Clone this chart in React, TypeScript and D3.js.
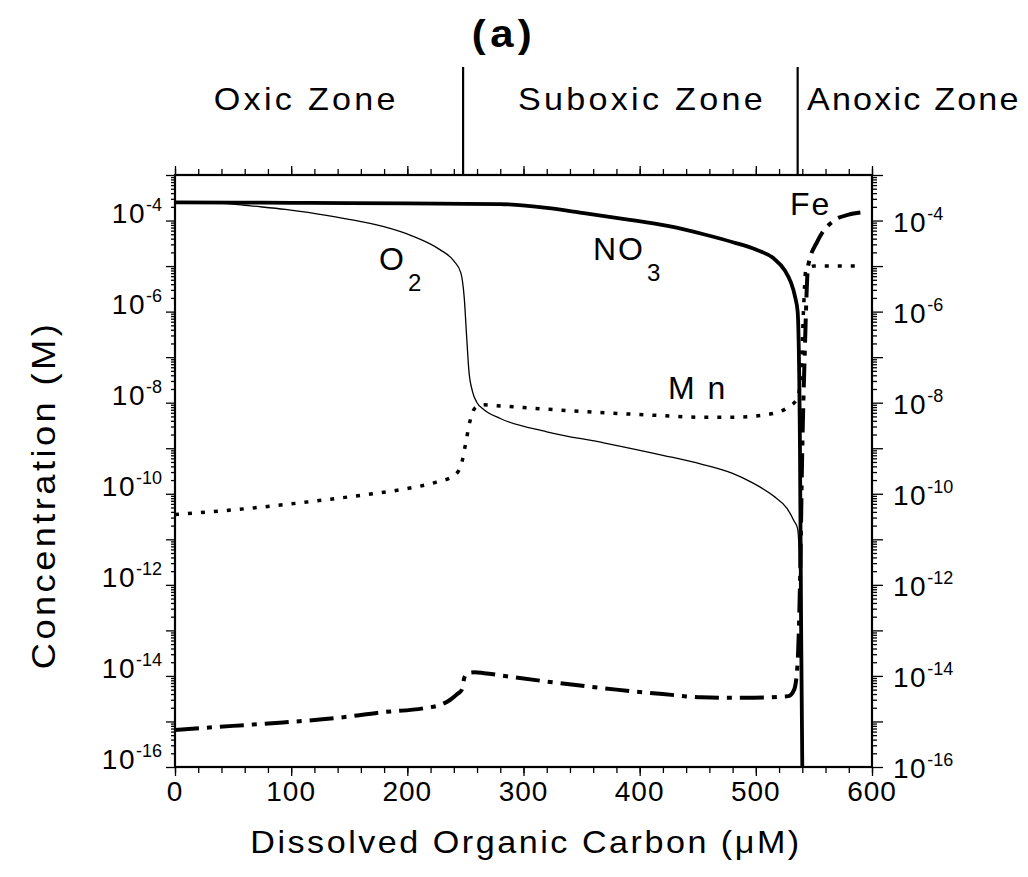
import { useEffect, useRef } from 'react'
import * as d3 from 'd3'

// x: dissolved organic carbon (uM), y: concentration (M)
const no3X = [0, 50, 100, 150, 200, 250, 280, 320, 352, 390, 424, 455, 481, 500, 515, 525, 530, 534, 536, 538, 539, 540]
const no3Y = [2.5e-4, 2.48e-4, 2.45e-4, 2.42e-4, 2.38e-4, 2.33e-4, 2.3e-4, 1.9e-4, 1.45e-4, 1.05e-4, 7.6e-5, 5e-5, 3.3e-5, 2.3e-5, 1.5e-5, 8e-6, 4.5e-6, 2e-6, 1e-6, 1e-9, 1e-13, 1e-16]

const o2X = [0, 20, 35, 50, 65, 95, 122, 151, 179, 205, 228, 240, 246, 249, 251, 253, 256, 260, 266, 280, 320, 370, 420, 453, 480, 496, 515, 527, 533, 536, 538, 539, 540]
const o2Y = [2.5e-4, 2.5e-4, 2.45e-4, 2.3e-4, 2.1e-4, 1.75e-4, 1.4e-4, 1.05e-4, 7.4e-5, 4.5e-5, 2.3e-5, 1.3e-5, 7.2e-6, 2e-6, 3e-7, 5e-8, 1.8e-8, 1e-8, 7e-9, 4.5e-9, 2.3e-9, 1.3e-9, 7e-10, 4.5e-10, 2.8e-10, 1.8e-10, 9e-11, 4.7e-11, 2.5e-11, 1.7e-11, 1e-12, 1e-14, 1e-16]

const mnX = [0, 53, 100, 132, 170, 200, 225, 240, 246, 250, 254, 258, 264, 280, 320, 370, 420, 450, 480, 510, 528, 536, 539, 541, 543, 550, 570, 590]
const mnY = [3.5e-11, 4.5e-11, 6e-11, 7.5e-11, 1e-10, 1.3e-10, 1.8e-10, 2.5e-10, 4e-10, 1.2e-9, 4e-9, 7.5e-9, 9e-9, 8.5e-9, 7.2e-9, 6e-9, 5.2e-9, 4.8e-9, 4.8e-9, 5.5e-9, 8e-9, 1.3e-8, 5e-8, 1e-6, 8e-6, 1e-5, 1e-5, 1e-5]

const feX = [0, 50, 93, 140, 179, 214, 230, 237, 243, 247, 249, 252, 258, 266, 290, 330, 380, 420, 453, 490, 528, 533, 536, 538, 540, 542, 545, 553, 566, 580, 590]
const feY = [6.5e-16, 8e-16, 9.5e-16, 1.2e-15, 1.6e-15, 1.95e-15, 2.4e-15, 3e-15, 4e-15, 5e-15, 9e-15, 1.15e-14, 1.2e-14, 1.15e-14, 9.5e-15, 7e-15, 5e-15, 4e-15, 3.4e-15, 3.3e-15, 3.6e-15, 5e-15, 2e-14, 1e-12, 1e-9, 1e-7, 1e-5, 3.5e-5, 9.5e-5, 1.35e-4, 1.5e-4]

const xMajor = [0, 100, 200, 300, 400, 500, 600]
const yLabelExp = [-4, -6, -8, -10, -12, -14, -16]
const zoneNames = ['Oxic Zone', 'Suboxic Zone', 'Anoxic Zone']
const zoneBounds = [248, 536]
const zoneCenters = [113, 402, 636]

const FONT = 'Liberation Sans, Arial, Helvetica, sans-serif'
const SX = 1.1 // the scanned lettering is a little wider than Arial

export default function App() {
  const svgRef = useRef<SVGSVGElement>(null)

  useEffect(() => {
    if (!svgRef.current) return
    const svg = d3.select(svgRef.current)
    svg.selectAll('*').remove()

    const margin = { top: 175, left: 175 }
    const innerWidth = 697
    const innerHeight = 592

    const x = d3.scaleLinear().domain([0, 600]).range([0, innerWidth])
    const y = d3.scaleLog().domain([1e-16, 1e-3]).range([innerHeight, 0])

    const g = svg.append('g').attr('transform', `translate(${margin.left},${margin.top})`)

    // ticks
    const minorX = d3.range(0, 601, 20)
    const decades = d3.range(-16, -2).map(e => Math.pow(10, e))
    const minorY: number[] = []
    d3.range(-16, -3).forEach(e => {
      for (let k = 2; k < 10; k++) minorY.push(k * Math.pow(10, e))
    })

    const styleAxis = (sel: any) => {
      sel.select('.domain').remove()
      sel.selectAll('line').attr('stroke', '#000').attr('stroke-width', 1.3)
    }

    g.append('g').attr('transform', `translate(0,${innerHeight})`)
      .call(d3.axisBottom(x).tickValues(minorX).tickSize(6).tickFormat(() => ''))
      .call(styleAxis)
    g.append('g').attr('transform', `translate(0,${innerHeight})`)
      .call(d3.axisBottom(x).tickValues(xMajor).tickSize(9).tickFormat(() => ''))
      .call(styleAxis)
    g.append('g')
      .call(d3.axisTop(x).tickValues(minorX).tickSize(6).tickFormat(() => ''))
      .call(styleAxis)
    g.append('g')
      .call(d3.axisTop(x).tickValues(xMajor).tickSize(9).tickFormat(() => ''))
      .call(styleAxis)

    g.append('g')
      .call(d3.axisLeft(y).tickValues(minorY).tickSize(4).tickFormat(() => ''))
      .call(styleAxis)
    g.append('g')
      .call(d3.axisLeft(y).tickValues(decades).tickSize(9).tickFormat(() => ''))
      .call(styleAxis)
    g.append('g').attr('transform', `translate(${innerWidth},0)`)
      .call(d3.axisRight(y).tickValues(minorY).tickSize(5).tickFormat(() => ''))
      .call(styleAxis)
    g.append('g').attr('transform', `translate(${innerWidth},0)`)
      .call(d3.axisRight(y).tickValues(decades).tickSize(11).tickFormat(() => ''))
      .call(styleAxis)

    // frame
    g.append('rect')
      .attr('width', innerWidth).attr('height', innerHeight)
      .attr('fill', 'none').attr('stroke', '#000').attr('stroke-width', 2.2)

    // x tick labels
    g.append('g').selectAll('text').data(xMajor).join('text')
      .attr('x', d => x(d)).attr('y', innerHeight + 34)
      .attr('text-anchor', 'middle')
      .attr('font-family', FONT).attr('font-size', 28).attr('letter-spacing', 1)
      .text(d => d)

    // y tick labels, both sides
    const yLab = (sel: any, side: 'left' | 'right') => {
      const t = sel.selectAll('text').data(yLabelExp).join('text')
        .attr('x', side === 'left' ? -13 : innerWidth + 21)
        .attr('y', (d: number) => y(Math.pow(10, d)) + (side === 'left' ? 2 : 11))
        .attr('text-anchor', side === 'left' ? 'end' : 'start')
        .attr('font-family', FONT).attr('font-size', 28)
      t.append('tspan').attr('letter-spacing', 1.5).text('10')
      t.append('tspan').attr('font-size', 18).attr('dy', -12).text((d: number) => String(d))
    }
    g.append('g').call(yLab, 'left')
    g.append('g').call(yLab, 'right')

    // series
    const line = d3.line<[number, number]>()
      .x(d => x(d[0])).y(d => y(d[1]))
      .curve(d3.curveMonotoneX)
    const pairs = (xs: number[], ys: number[]) => xs.map((v, i) => [v, ys[i]] as [number, number])

    g.append('path').datum(pairs(o2X, o2Y))
      .attr('d', line).attr('fill', 'none').attr('stroke', '#000').attr('stroke-width', 1.3)
    g.append('path').datum(pairs(mnX, mnY))
      .attr('d', line).attr('fill', 'none').attr('stroke', '#000').attr('stroke-width', 3.5)
      .attr('stroke-dasharray', '4 9')
    g.append('path').datum(pairs(feX, feY))
      .attr('d', line).attr('fill', 'none').attr('stroke', '#000').attr('stroke-width', 4)
      .attr('stroke-dasharray', '24 8 5 8')
    g.append('path').datum(pairs(no3X, no3Y))
      .attr('d', line).attr('fill', 'none').attr('stroke', '#000').attr('stroke-width', 3.8)

    // series labels
    const lab = (tx: number, ty: number, main: string, sub?: string) => {
      const t = g.append('text').attr('x', tx).attr('y', ty)
        .attr('font-family', FONT).attr('font-size', 32).attr('letter-spacing', 2)
      t.append('tspan').text(main)
      if (sub) t.append('tspan').attr('font-size', 24).attr('dy', 21).attr('dx', 2).text(sub)
    }
    lab(204, 95, 'O', '2')
    lab(418, 85, 'NO', '3')
    lab(493, 224, 'M n')
    lab(615, 40, 'Fe')

    // wide text helper: horizontally stretched, centred at (cx, cy)
    const wide = (cx: number, cy: number, str: string, size: number, ls: number, rot = 0, bold = false) =>
      svg.append('text')
        .attr('transform', `translate(${cx},${cy}) rotate(${rot}) scale(${SX},1)`)
        .attr('text-anchor', 'middle')
        .attr('font-family', FONT).attr('font-size', size)
        .attr('font-weight', bold ? 'bold' : 'normal')
        .attr('letter-spacing', ls)
        .text(str)

    // zone dividers and names
    zoneBounds.forEach(b => {
      svg.append('line')
        .attr('x1', margin.left + x(b)).attr('x2', margin.left + x(b))
        .attr('y1', 67).attr('y2', margin.top)
        .attr('stroke', '#000').attr('stroke-width', 2.2)
    })
    zoneNames.forEach((name, i) => {
      wide(margin.left + x(zoneCenters[i]), 110, name, 31, i === 2 ? 2 : 3)
    })

    // titles
    wide(504, 47, '(a)', 38, 4, 0, true)
    wide(526, 853, 'Dissolved Organic Carbon (\u03BCM)', 31, 2.3)
    wide(55, 495, 'Concentration (M)', 33, 3.1, -90)
  }, [])

  return (
    <svg
      ref={svgRef}
      width={1028}
      height={877}
      style={{ position: 'absolute', left: 0, top: 0, background: '#fff' }}
    />
  )
}
